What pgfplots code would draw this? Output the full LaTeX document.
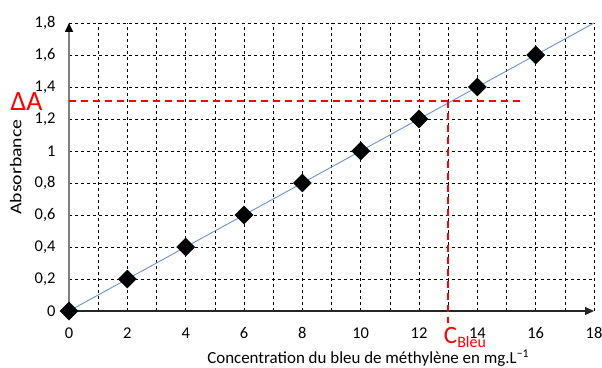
\documentclass[border=0pt]{standalone}
\usepackage{fontspec}
\setmainfont{Carlito}
\usepackage{pgfplots}
\pgfplotsset{compat=1.18}
\usetikzlibrary{arrows.meta,calc}
\definecolor{lineblue}{RGB}{105,145,225}
\begin{document}
\begin{tikzpicture}
\begin{axis}[
  scale only axis, width=525bp, height=288bp,
  xmin=0, xmax=18, ymin=0, ymax=1.8,
  axis lines=left,
  clip=false,
  x axis line style={black!85, line width=1.3bp, -{Triangle[length=9bp,width=8bp]}},
  y axis line style={gray, line width=1.6bp, -{Triangle[length=9bp,width=8bp,black]}},
  xtick={0,2,...,18}, minor xtick={1,3,...,17},
  ytick={0,0.2,...,1.8},
  xmajorgrids, xminorgrids, ymajorgrids,
  major grid style={black, dashed, line width=0.6bp},
  minor grid style={black, dashed, line width=0.6bp},
  major tick length=0pt, minor tick length=0pt,
  /pgf/number format/use comma,
  /pgf/number format/assume math mode=true,
  tick label style={font=\fontsize{16.5}{18}\selectfont},
  xticklabel style={yshift=-13bp},
  yticklabel style={xshift=-10bp},
  xlabel={Concentration du bleu de méthylène en mg.L\textsuperscript{−1}},
  xlabel style={font=\fontsize{17}{19}\selectfont, at={(axis description cs:0.57,0)}, anchor=north, yshift=-35bp},
  ylabel={\scalebox{1.2}[1]{Absorbance}},
  ylabel style={font=\fontsize{16.5}{18}\selectfont, at={(axis description cs:0,0.5)}, anchor=south, yshift=44bp},
]
\addplot[lineblue, line width=0.9bp, forget plot] coordinates {(0,0) (18,1.8)};
\addplot[only marks, mark=square*, mark size=6.4bp, mark options={rotate=45, black, fill=black}] coordinates {
(0,0) (2,0.2) (4,0.4) (6,0.6) (8,0.8) (10,1.0) (12,1.2) (14,1.4) (16,1.6)};
\draw[red, line width=1.8bp, dash pattern=on 7bp off 5bp] (axis cs:0,1.31) -- (axis cs:15.55,1.31);
\draw[red, line width=1.8bp, dash pattern=on 7bp off 5bp] (axis cs:13.0,1.31) -- (axis cs:13.0,-0.075);
\node[anchor=east, red, font=\fontsize{28}{30}\selectfont, inner sep=0pt] at (axis cs:-0.9,1.31) {ΔA};
\node[anchor=base west, red, font=\fontsize{25}{28}\selectfont, inner sep=0pt] at (axis cs:12.85,-0.2) {C\raisebox{-4bp}{\fontsize{16}{18}\selectfont Bleu}};
\coordinate (bl) at (axis cs:0,0);
\end{axis}
\pgfresetboundingbox
\path ($(bl)+(-69bp,-57bp)$) rectangle ($(bl)+(533bp,311bp)$);
\end{tikzpicture}
\end{document}
